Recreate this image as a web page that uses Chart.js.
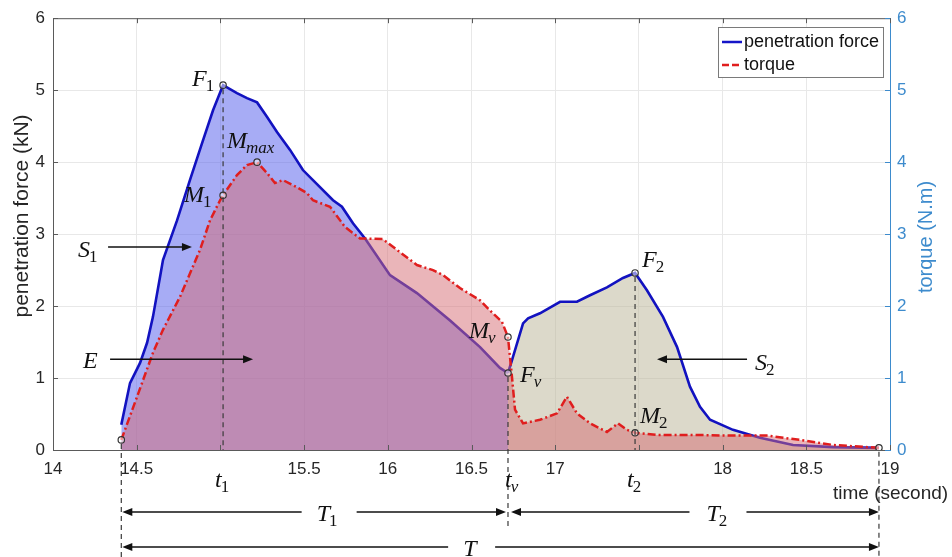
<!DOCTYPE html>
<html>
<head>
<meta charset="utf-8">
<script src="https://cdn.jsdelivr.net/npm/chart.js@4.4.1/dist/chart.umd.min.js"></script>
<style>
  html, body { margin: 0; padding: 0; background: #fff; }
</style>
</head>
<body>
<canvas id="chart" width="952" height="557"></canvas>
<script>
// penetration force (kN), first stage up to t_v
const forceT1 = [14.408, 14.460, 14.520, 14.562, 14.597, 14.639, 14.657, 14.741, 14.818, 14.890,
                 14.956, 15.016, 15.099, 15.159, 15.219, 15.278, 15.338, 15.416, 15.493, 15.553,
                 15.673, 15.726, 15.792, 15.864, 16.013, 16.174, 16.372, 16.551, 16.670, 16.718];
const forceV1 = [0.35, 0.93, 1.21, 1.49, 1.85, 2.40, 2.64, 3.19, 3.75, 4.26,
                 4.72, 5.07, 4.96, 4.89, 4.83, 4.63, 4.42, 4.17, 3.89, 3.75,
                 3.47, 3.38, 3.15, 2.94, 2.43, 2.18, 1.80, 1.43, 1.14, 1.07];
// penetration force, second stage after t_v
const forceT2 = [16.718, 16.742, 16.808, 16.838, 16.909, 17.029, 17.130, 17.208, 17.309, 17.405,
                 17.477, 17.548, 17.644, 17.728, 17.805, 17.865, 17.925, 18.062, 18.223, 18.421,
                 18.660, 18.934];
const forceV2 = [1.07, 1.25, 1.76, 1.83, 1.90, 2.06, 2.06, 2.15, 2.26, 2.39,
                 2.46, 2.22, 1.85, 1.43, 0.88, 0.60, 0.42, 0.28, 0.17, 0.07,
                 0.04, 0.03];
// torque (N.m)
const torqueT = [14.408, 14.502, 14.597, 14.657, 14.759, 14.878, 14.938, 14.998, 15.016, 15.099,
                 15.159, 15.219, 15.278, 15.326, 15.374, 15.458, 15.517, 15.553, 15.655, 15.744,
                 15.834, 15.971, 16.055, 16.174, 16.270, 16.330, 16.431, 16.551, 16.610, 16.682,
                 16.718, 16.742, 16.760, 16.808, 16.909, 17.011, 17.070, 17.130, 17.208, 17.309,
                 17.375, 17.429, 17.477, 17.608, 17.805, 18.062, 18.265, 18.462, 18.660, 18.934];
const torqueV = [0.14, 0.74, 1.35, 1.67, 2.13, 2.78, 3.19, 3.47, 3.54, 3.82,
                 3.96, 4.00, 3.85, 3.71, 3.75, 3.65, 3.57, 3.47, 3.38, 3.10,
                 2.94, 2.93, 2.78, 2.57, 2.50, 2.43, 2.25, 2.08, 1.94, 1.78,
                 1.57, 1.01, 0.56, 0.37, 0.42, 0.51, 0.74, 0.51, 0.37, 0.25,
                 0.37, 0.28, 0.24, 0.21, 0.21, 0.20, 0.20, 0.14, 0.07, 0.03];
// marked points
const markerNames = ['start', 'F1', 'M1', 'Mmax', 'Mv', 'Fv', 'F2', 'M2', 'end'];
const markerT = [14.408, 15.016, 15.016, 15.219, 16.718, 16.718, 17.477, 17.477, 18.934];
const markerV = [0.14, 5.07, 3.54, 4.00, 1.57, 1.07, 2.46, 0.24, 0.03];
// tick labels (15 and 17.5 are left blank in the original)
const xTickLabels = ['14', '14.5', '', '15.5', '16', '16.5', '17', '', '18', '18.5', '19'];
const yTickLabels = ['0', '1', '2', '3', '4', '5', '6'];

const SANS = '"Liberation Sans", Arial, sans-serif';
const SERIF = '"Liberation Serif", "Times New Roman", serif';
const BLUE_AXIS = '#3d8bcd';
const AXIS = '#5a5a5a';

const pts = (ts, vs) => ts.map((t, i) => ({ x: t, y: vs[i] }));
const mark = name => {
    const i = markerNames.indexOf(name);
    return { t: markerT[i], v: markerV[i] };
};

function mathText(ctx, x, y, base, sub) {
    ctx.fillStyle = '#111';
    ctx.textAlign = 'left';
    ctx.textBaseline = 'alphabetic';
    ctx.font = 'italic 24px ' + SERIF;
    ctx.fillText(base, x, y);
    const w = ctx.measureText(base).width;
    if (sub) {
        ctx.font = (/^\d+$/.test(sub) ? '' : 'italic ') + '17px ' + SERIF;
        ctx.fillText(sub, x + w - 1, y + 5);
    }
}

function arrow(ctx, x1, y, x2) {
    const dir = Math.sign(x2 - x1);
    ctx.strokeStyle = '#111';
    ctx.fillStyle = '#111';
    ctx.lineWidth = 1.6;
    ctx.setLineDash([]);
    ctx.beginPath();
    ctx.moveTo(x1, y);
    ctx.lineTo(x2 - dir * 6, y);
    ctx.stroke();
    ctx.beginPath();
    ctx.moveTo(x2, y);
    ctx.lineTo(x2 - dir * 10, y - 4);
    ctx.lineTo(x2 - dir * 10, y + 4);
    ctx.closePath();
    ctx.fill();
}

function vdash(ctx, x, y1, y2) {
    ctx.save();
    ctx.strokeStyle = '#3a3a3a';
    ctx.lineWidth = 1.2;
    ctx.setLineDash([5, 4]);
    ctx.beginPath();
    ctx.moveTo(x, y1);
    ctx.lineTo(x, y2);
    ctx.stroke();
    ctx.restore();
}

const decorations = {
    id: 'decorations',
    afterDatasetsDraw(chart) {
        const { ctx, chartArea: a, scales } = chart;
        const X = v => scales.x.getPixelForValue(v);
        const Y = v => scales.y.getPixelForValue(v);
        ctx.save();

        // box and inward ticks (matlab style)
        ctx.strokeStyle = AXIS;
        ctx.lineWidth = 1;
        ctx.setLineDash([]);
        ctx.beginPath();
        ctx.moveTo(a.left, a.top + 0.5);
        ctx.lineTo(a.right, a.top + 0.5);
        scales.x.ticks.forEach(tk => {
            const px = Math.round(X(tk.value)) + 0.5;
            ctx.moveTo(px, a.bottom); ctx.lineTo(px, a.bottom - 5);
            ctx.moveTo(px, a.top); ctx.lineTo(px, a.top + 5);
        });
        scales.y.ticks.forEach(tk => {
            const py = Math.round(Y(tk.value)) + 0.5;
            ctx.moveTo(a.left, py); ctx.lineTo(a.left + 5, py);
        });
        ctx.stroke();
        ctx.strokeStyle = BLUE_AXIS;
        ctx.beginPath();
        scales.y1.ticks.forEach(tk => {
            const py = Math.round(scales.y1.getPixelForValue(tk.value)) + 0.5;
            ctx.moveTo(a.right, py); ctx.lineTo(a.right - 5, py);
        });
        ctx.stroke();

        // dashed guide lines
        const s = mark('start'), e = mark('end'), f1 = mark('F1'), fv = mark('Fv'), f2 = mark('F2');
        vdash(ctx, X(f1.t), Y(f1.v) + 4, a.bottom);
        vdash(ctx, X(f2.t), Y(f2.v) + 4, a.bottom);
        vdash(ctx, X(fv.t), Y(fv.v) + 4, a.bottom + 78);
        vdash(ctx, X(s.t), Y(s.v) + 4, chart.height);
        vdash(ctx, X(e.t), Y(e.v) + 4, chart.height);

        // point labels
        const lab = (name, dx, dy, base, sub) => {
            const m = mark(name);
            mathText(ctx, X(m.t) + dx, Y(m.v) + dy, base, sub);
        };
        lab('F1', -31, 1, 'F', '1');
        lab('Mmax', -30, -14, 'M', 'max');
        lab('M1', -39, 7, 'M', '1');
        lab('Mv', -39, 1, 'M', 'v');
        lab('Fv', 12, 9, 'F', 'v');
        lab('F2', 7, -6, 'F', '2');
        lab('M2', 5, -10, 'M', '2');

        // area labels with arrows
        mathText(ctx, X(14.149), Y(2.68), 'S', '1');
        arrow(ctx, X(14.329), Y(2.82), X(14.830));
        mathText(ctx, X(14.179), Y(1.14), 'E');
        arrow(ctx, X(14.341), Y(1.26), X(15.195));
        mathText(ctx, X(18.194), Y(1.11), 'S', '2');
        arrow(ctx, X(18.146), Y(1.26), X(17.608));

        // time markers under the axis
        const by = a.bottom + 37;
        mathText(ctx, X(f1.t) - 8, by, 't', '1');
        mathText(ctx, X(fv.t) - 3, by, 't', 'v');
        mathText(ctx, X(f2.t) - 8, by, 't', '2');

        // durations
        const xs = X(s.t), xv = X(fv.t), xe = X(e.t);
        const row1 = a.bottom + 62, row2 = a.bottom + 97;
        let c = (xs + xv) / 2 + 13;
        arrow(ctx, c - 26, row1, xs + 1);
        arrow(ctx, c + 29, row1, xv - 2);
        mathText(ctx, c - 11, row1 + 9, 'T', '1');
        c = (xv + xe) / 2 + 24;
        arrow(ctx, c - 28, row1, xv + 3);
        arrow(ctx, c + 29, row1, xe);
        mathText(ctx, c - 11, row1 + 9, 'T', '2');
        c = (xs + xe) / 2 - 29;
        arrow(ctx, c - 23, row2, xs + 1);
        arrow(ctx, c + 24, row2, xe);
        mathText(ctx, c - 8, row2 + 9, 'T');

        // axis titles
        ctx.fillStyle = '#262626';
        ctx.font = '19px ' + SANS;
        ctx.textAlign = 'left';
        ctx.textBaseline = 'middle';
        ctx.fillText('time (second)', 833, a.bottom + 44);

        ctx.save();
        ctx.translate(22, 216);
        ctx.rotate(-Math.PI / 2);
        ctx.textAlign = 'center';
        ctx.font = '21px ' + SANS;
        ctx.fillText('penetration force (kN)', 0, 0);
        ctx.restore();

        ctx.save();
        ctx.translate(926, 237);
        ctx.rotate(-Math.PI / 2);
        ctx.textAlign = 'center';
        ctx.fillStyle = BLUE_AXIS;
        ctx.font = '20px ' + SANS;
        ctx.fillText('torque (N.m)', 0, 0);
        ctx.restore();

        // legend
        const lx = 718, ly = 27;
        ctx.fillStyle = '#fff';
        ctx.fillRect(lx, ly, 165, 50);
        ctx.strokeStyle = '#7a7a7a';
        ctx.lineWidth = 1;
        ctx.strokeRect(lx + 0.5, ly + 0.5, 165, 50);
        ctx.lineWidth = 2.5;
        ctx.strokeStyle = '#1515c8';
        ctx.beginPath(); ctx.moveTo(lx + 4, ly + 15); ctx.lineTo(lx + 24, ly + 15); ctx.stroke();
        ctx.strokeStyle = '#e01e1e';
        ctx.setLineDash([7, 3]);
        ctx.beginPath(); ctx.moveTo(lx + 4, ly + 38); ctx.lineTo(lx + 24, ly + 38); ctx.stroke();
        ctx.setLineDash([]);
        ctx.fillStyle = '#111';
        ctx.font = '18px ' + SANS;
        ctx.textAlign = 'left';
        ctx.textBaseline = 'middle';
        ctx.fillText('penetration force', lx + 26, ly + 15);
        ctx.fillText('torque', lx + 26, ly + 38);

        ctx.restore();
    }
};

const tickFont = { family: SANS, size: 17 };

new Chart(document.getElementById('chart'), {
    type: 'line',
    data: {
        datasets: [
            {
                label: 'penetration force',
                data: pts(forceT1, forceV1),
                borderColor: '#1212c0',
                borderWidth: 2.6,
                backgroundColor: 'rgba(80,90,235,0.5)',
                fill: 'origin',
                pointRadius: 0,
                tension: 0,
                yAxisID: 'y',
                order: 3
            },
            {
                label: 'penetration force',
                data: pts(forceT2, forceV2),
                borderColor: '#1212c0',
                borderWidth: 2.6,
                backgroundColor: 'rgba(185,180,150,0.5)',
                fill: 'origin',
                pointRadius: 0,
                tension: 0,
                yAxisID: 'y',
                order: 3
            },
            {
                label: 'torque',
                data: pts(torqueT, torqueV),
                borderColor: '#e01e1e',
                borderWidth: 2.5,
                borderDash: [8, 3, 2, 3],
                backgroundColor: 'rgba(213,108,115,0.5)',
                fill: 'origin',
                pointRadius: 0,
                tension: 0,
                yAxisID: 'y1',
                order: 2
            },
            {
                type: 'scatter',
                label: 'points',
                data: pts(markerT, markerV),
                pointRadius: 3.2,
                pointBorderColor: '#333',
                pointBackgroundColor: 'rgba(255,255,255,0.5)',
                pointBorderWidth: 1.2,
                showLine: false,
                yAxisID: 'y',
                order: 1
            }
        ]
    },
    options: {
        responsive: false,
        animation: false,
        layout: { padding: { top: 18, left: 0, right: 0, bottom: 0 } },
        plugins: { legend: { display: false }, tooltip: { enabled: false } },
        scales: {
            x: {
                type: 'linear',
                min: 14,
                max: 19,
                afterFit: sc => { sc.height = 107; },
                ticks: {
                    stepSize: 0.5,
                    autoSkip: false,
                    maxRotation: 0,
                    padding: 9,
                    color: '#262626',
                    font: tickFont,
                    callback: (v, i) => xTickLabels[i]
                },
                grid: { color: '#e8e8e8', drawTicks: false },
                border: { color: AXIS, width: 1 }
            },
            y: {
                position: 'left',
                min: 0,
                max: 6,
                afterFit: sc => { sc.width = 53; },
                ticks: {
                    stepSize: 1,
                    padding: 8,
                    color: '#262626',
                    font: tickFont,
                    callback: (v, i) => yTickLabels[i]
                },
                grid: { color: '#e8e8e8', drawTicks: false },
                border: { color: AXIS, width: 1 }
            },
            y1: {
                position: 'right',
                min: 0,
                max: 6,
                afterFit: sc => { sc.width = 62; },
                ticks: {
                    stepSize: 1,
                    padding: 7,
                    color: BLUE_AXIS,
                    font: tickFont,
                    callback: (v, i) => yTickLabels[i]
                },
                grid: { drawOnChartArea: false, drawTicks: false },
                border: { color: BLUE_AXIS, width: 1 }
            }
        }
    },
    plugins: [decorations]
});
</script>
</body>
</html>
